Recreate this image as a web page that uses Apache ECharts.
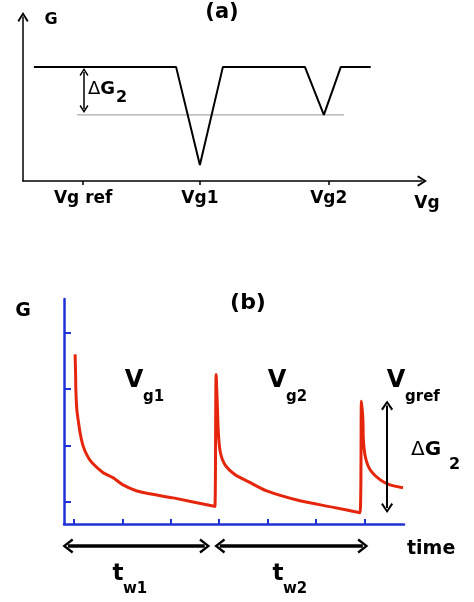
<!DOCTYPE html>
<html>
<head>
<meta charset="utf-8">
<script src="https://cdn.jsdelivr.net/npm/echarts@6/dist/echarts.min.js"></script>
<style>
  html, body { margin: 0; padding: 0; background: #fff; }
  #main { width: 474px; height: 602px; }
</style>
</head>
<body>
<div id="main"></div>
<script>
// panel (a): G vs Vg, schematic
var aVg = [2.7, 37.9, 43.8, 49.5, 69.8, 74.5, 78.7, 86.1];
var aG  = [67.5, 67.5, 9.5, 67.5, 67.5, 39.1, 67.5, 67.5];
var aRefVg = [13.4, 79.5];
var aRefG  = [39.1, 39.1];
var aTickVals  = [14.9, 43.8, 75.7];
var aTickNames = ['Vg ref', 'Vg1', 'Vg2'];

// panel (b): G vs time, relaxation after each gate step
var bTime = [0.02, 0.03, 0.035, 0.055, 0.09, 0.13, 0.19, 0.27, 0.37, 0.60, 0.81, 1.01, 1.36, 2.05, 2.87, 2.91,
             2.935, 2.96, 2.98, 3.02, 3.12, 3.33, 3.60, 3.98, 4.67, 5.36, 5.91,
             5.94, 5.97, 5.98, 6.02, 6.12, 6.33, 6.53, 6.80];
var bG    = [75.4, 66.5, 59.8, 50.9, 45.1, 39.7, 34.4, 30.4, 27.2, 22.8, 20.5, 17.4, 14.3, 11.6, 8.0, 7.8,
             66.5, 53.1, 41.1, 32.1, 26.3, 21.9, 18.8, 14.7, 10.3, 7.4, 5.0,
             54.6, 46.4, 37.5, 29.9, 24.1, 19.6, 17.4, 16.1];
var bTimeTicks = [0, 1, 2, 3, 4, 5, 6];
var bGTicks = [10, 35, 60, 85];
// waiting intervals t_w1, t_w2 (arrow ends, in time units)
var twStart = [-0.13, 3.01];
var twEnd   = [2.70, 5.97];

function zip(xs, ys) {
  return xs.map(function (x, i) { return [x, ys[i]]; });
}

var chev = 'path://M50,0 L100,78 L86,90 L50,30 L14,90 L0,78 Z';
var font = '"DejaVu Sans", Arial, sans-serif';
var blue = '#1f32d6';

function txt(x, y, s, size, align, bold) {
  return {
    type: 'text', x: x, y: y,
    style: {
      text: s, fill: '#000',
      font: (bold === false ? '' : 'bold ') + size + 'px ' + font,
      textAlign: align || 'center', textVerticalAlign: 'middle'
    }
  };
}

var chart = echarts.init(document.getElementById('main'));
var option = {
  animation: false,
  backgroundColor: '#fff',
  grid: [
    { left: 23, right: 52, top: 17, height: 164 },
    { left: 64, right: 70, top: 299, height: 225 },
    { left: 50, width: 362.7, top: 536, height: 20 }
  ],
  xAxis: [
    {
      gridIndex: 0, type: 'value', min: 0, max: 98.8,
      splitLine: { show: false },
      axisLine: { onZero: false, lineStyle: { color: '#000', width: 1.5 }, symbol: ['none', chev], symbolSize: [11, 10] },
      axisTick: { customValues: aTickVals, length: 4, lineStyle: { color: '#000', width: 1.5 } },
      axisLabel: {
        customValues: aTickVals, margin: 9, color: '#000',
        fontFamily: font, fontWeight: 'bold', fontSize: 17,
        formatter: function (v) { return aTickNames[aTickVals.indexOf(v)]; }
      }
    },
    {
      gridIndex: 1, type: 'value', min: -0.21, max: 6.82,
      splitLine: { show: false },
      axisLine: { onZero: false, lineStyle: { color: blue, width: 2.5 } },
      axisTick: { customValues: bTimeTicks, inside: true, length: 5, lineStyle: { color: blue, width: 2 } },
      axisLabel: { show: false }
    },
    {
      gridIndex: 2, type: 'value', min: -0.5, max: 7, show: false
    }
  ],
  yAxis: [
    {
      gridIndex: 0, type: 'value', min: 0, max: 97,
      splitLine: { show: false },
      axisLine: { onZero: false, lineStyle: { color: '#000', width: 1.5 }, symbol: ['none', chev], symbolSize: [11, 10] },
      axisTick: { show: false },
      axisLabel: { show: false }
    },
    {
      gridIndex: 1, type: 'value', min: 0, max: 100,
      splitLine: { show: false },
      axisLine: { onZero: false, lineStyle: { color: blue, width: 2.5 } },
      axisTick: { customValues: bGTicks, inside: true, length: 7, lineStyle: { color: blue, width: 2 } },
      axisLabel: { show: false }
    },
    {
      gridIndex: 2, type: 'value', min: 0, max: 1, show: false
    }
  ],
  series: [
    {
      name: 'ref', type: 'line', xAxisIndex: 0, yAxisIndex: 0,
      data: zip(aRefVg, aRefG), symbol: 'none',
      lineStyle: { color: '#aaaaaa', width: 1.2 }
    },
    {
      name: 'G(Vg)', type: 'line', xAxisIndex: 0, yAxisIndex: 0,
      data: zip(aVg, aG), symbol: 'none',
      lineStyle: { color: '#000', width: 2 },
      markLine: {
        silent: true, symbol: [chev, chev], symbolSize: [9, 8],
        label: { show: false },
        lineStyle: { color: '#000', width: 1.5, type: 'solid' },
        data: [[{ coord: [15.1, 64.5] }, { coord: [15.1, 42.6] }]]
      }
    },
    {
      name: 'G(t)', type: 'line', xAxisIndex: 1, yAxisIndex: 1,
      data: zip(bTime, bG), symbol: 'none',
      smooth: 0.25,
      lineStyle: { color: '#e5250c', width: 3 },
      markLine: {
        silent: true, symbol: [chev, chev], symbolSize: [12, 10],
        label: { show: false },
        lineStyle: { color: '#000', width: 2, type: 'solid' },
        data: [[{ coord: [6.47, 52.7] }, { coord: [6.47, 7.1] }]]
      }
    },
    {
      name: 'tw', type: 'line', xAxisIndex: 2, yAxisIndex: 2,
      data: zip(twStart, [0.5, 0.5]), symbol: 'none',
      lineStyle: { opacity: 0 },
      markLine: {
        silent: true, symbol: [chev, chev], symbolSize: [15, 11],
        label: { show: false },
        lineStyle: { color: '#000', width: 3.5, type: 'solid' },
        data: twStart.map(function (s, i) {
          return [{ coord: [s, 0.5] }, { coord: [twEnd[i], 0.5] }];
        })
      }
    }
  ],
  graphic: [
    txt(222, 13, '(a)', 21),
    txt(51, 20, 'G', 16),
    txt(427, 204, 'Vg', 17),
    {
      type: 'text', x: 88, y: 89,
      style: {
        text: '{d|Δ}{g|G}', textVerticalAlign: 'middle',
        rich: {
          d: { fontFamily: font, fontSize: 18, fill: '#000' },
          g: { fontFamily: font, fontSize: 18, fontWeight: 'bold', fill: '#000' }
        }
      }
    },
    txt(116, 98, '2', 16, 'left'),

    txt(248, 303, '(b)', 22),
    txt(23, 311, 'G', 19),
    txt(134, 381, 'V', 24),
    txt(143, 397, 'g1', 15, 'left'),
    txt(277, 381, 'V', 24),
    txt(286, 397, 'g2', 15, 'left'),
    txt(396, 381, 'V', 24),
    txt(405, 397, 'gref', 15, 'left'),
    {
      type: 'text', x: 411, y: 450,
      style: {
        text: '{d|Δ}{g|G}', textVerticalAlign: 'middle',
        rich: {
          d: { fontFamily: font, fontSize: 20, fill: '#000' },
          g: { fontFamily: font, fontSize: 20, fontWeight: 'bold', fill: '#000' }
        }
      }
    },
    txt(449, 465, '2', 16, 'left'),
    txt(407, 549, 'time', 19, 'left'),
    txt(118, 574, 't', 23),
    txt(123, 589, 'w1', 15, 'left'),
    txt(278, 574, 't', 23),
    txt(283, 589, 'w2', 15, 'left')
  ]
};
chart.setOption(option);
</script>
</body>
</html>
